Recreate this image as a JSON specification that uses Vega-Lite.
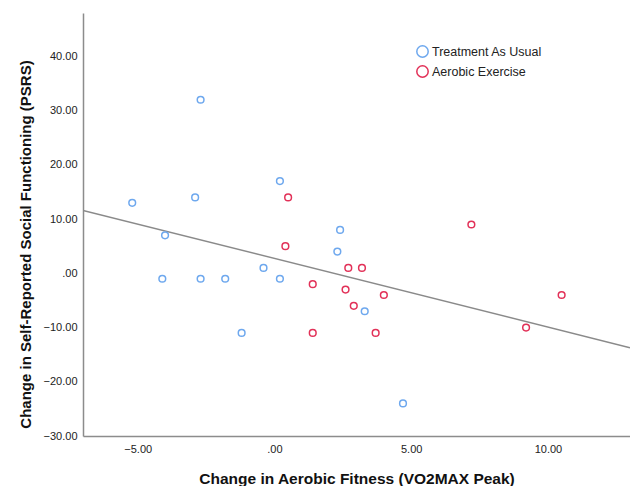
{
  "$schema": "https://vega.github.io/schema/vega-lite/v6.json",
  "autosize": "none",
  "width": 547,
  "height": 423,
  "padding": {"left": 83, "top": 13, "right": 0, "bottom": 50},
  "background": "white",
  "config": {
    "view": {"stroke": null},
    "font": "Liberation Sans",
    "axis": {
      "grid": false,
      "ticks": false,
      "domainColor": "#8c8c8c",
      "domainWidth": 1.5,
      "labelFont": "Liberation Sans",
      "labelFontSize": 11,
      "labelColor": "#222222",
      "titleFont": "Liberation Sans",
      "titleFontSize": 15,
      "titleFontWeight": "bold",
      "titleColor": "#111111"
    }
  },
  "data": {
    "values": [
      {"fitness": -5.2, "social": 13, "group": "Treatment As Usual"},
      {"fitness": -2.7, "social": 32, "group": "Treatment As Usual"},
      {"fitness": -2.9, "social": 14, "group": "Treatment As Usual"},
      {"fitness": 0.2, "social": 17, "group": "Treatment As Usual"},
      {"fitness": -4.0, "social": 7, "group": "Treatment As Usual"},
      {"fitness": -4.1, "social": -1, "group": "Treatment As Usual"},
      {"fitness": -2.7, "social": -1, "group": "Treatment As Usual"},
      {"fitness": -1.8, "social": -1, "group": "Treatment As Usual"},
      {"fitness": -0.4, "social": 1, "group": "Treatment As Usual"},
      {"fitness": 0.2, "social": -1, "group": "Treatment As Usual"},
      {"fitness": -1.2, "social": -11, "group": "Treatment As Usual"},
      {"fitness": 2.4, "social": 8, "group": "Treatment As Usual"},
      {"fitness": 2.3, "social": 4, "group": "Treatment As Usual"},
      {"fitness": 3.3, "social": -7, "group": "Treatment As Usual"},
      {"fitness": 4.7, "social": -24, "group": "Treatment As Usual"},
      {"fitness": 0.5, "social": 14, "group": "Aerobic Exercise"},
      {"fitness": 0.4, "social": 5, "group": "Aerobic Exercise"},
      {"fitness": 1.4, "social": -2, "group": "Aerobic Exercise"},
      {"fitness": 1.4, "social": -11, "group": "Aerobic Exercise"},
      {"fitness": 2.7, "social": 1, "group": "Aerobic Exercise"},
      {"fitness": 3.2, "social": 1, "group": "Aerobic Exercise"},
      {"fitness": 2.6, "social": -3, "group": "Aerobic Exercise"},
      {"fitness": 2.9, "social": -6, "group": "Aerobic Exercise"},
      {"fitness": 4.0, "social": -4, "group": "Aerobic Exercise"},
      {"fitness": 3.7, "social": -11, "group": "Aerobic Exercise"},
      {"fitness": 7.2, "social": 9, "group": "Aerobic Exercise"},
      {"fitness": 10.5, "social": -4, "group": "Aerobic Exercise"},
      {"fitness": 9.2, "social": -10, "group": "Aerobic Exercise"}
    ]
  },
  "layer": [
    {
      "transform": [
        {"regression": "social", "on": "fitness", "extent": [-7, 13]}
      ],
      "mark": {"type": "line", "color": "#8a8a8a", "strokeWidth": 1.5, "clip": true},
      "encoding": {
        "x": {"field": "fitness", "type": "quantitative"},
        "y": {"field": "social", "type": "quantitative"}
      }
    },
    {
      "mark": {"type": "point", "filled": false, "strokeWidth": 1.5, "size": 45, "opacity": 1},
      "encoding": {
        "x": {
          "field": "fitness",
          "type": "quantitative",
          "scale": {"domain": [-7, 13], "nice": false, "zero": false},
          "axis": {
            "values": [-5, 0, 5, 10],
            "labelExpr": "datum.value == 0 ? '.00' : format(datum.value, '.2f')",
            "labelPadding": 7,
            "title": "Change in Aerobic Fitness (VO2MAX Peak)",
            "titleFontSize": 15.5,
            "titleY": 42,
            "titleBaseline": "middle"
          }
        },
        "y": {
          "field": "social",
          "type": "quantitative",
          "scale": {"domain": [-30, 48], "nice": false, "zero": false},
          "axis": {
            "values": [-30, -20, -10, 0, 10, 20, 30, 40],
            "labelExpr": "datum.value == 0 ? '.00' : format(datum.value, '.2f')",
            "labelPadding": 6,
            "title": "Change in Self-Reported Social Functioning (PSRS)",
            "titleX": -58,
            "titleY": 231,
            "titleBaseline": "middle"
          }
        },
        "color": {
          "field": "group",
          "type": "nominal",
          "scale": {
            "domain": ["Treatment As Usual", "Aerobic Exercise"],
            "range": ["#6ea8ee", "#e23158"]
          },
          "legend": {
            "title": null,
            "orient": "none",
            "legendX": 333,
            "legendY": 32,
            "symbolType": "circle",
            "symbolSize": 130,
            "symbolStrokeWidth": 1.5,
            "symbolFillColor": "white",
            "labelFont": "Liberation Sans",
            "labelFontSize": 12.5,
            "labelColor": "#222222",
            "rowPadding": 1,
            "labelOffset": 3
          }
        }
      }
    }
  ]
}
